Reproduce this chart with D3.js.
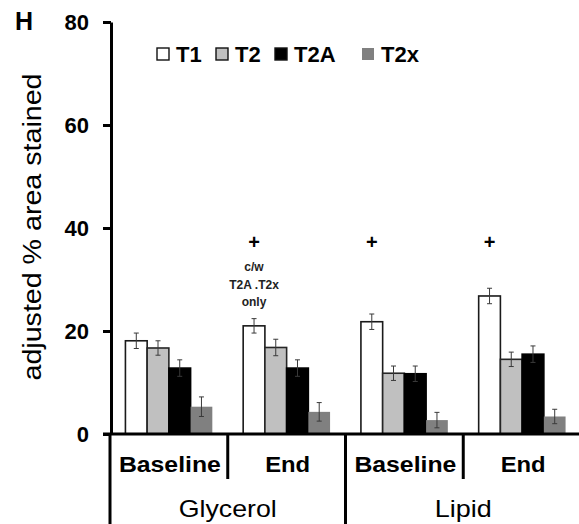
<!DOCTYPE html>
<html>
<head>
<meta charset="utf-8">
<script src="https://cdn.jsdelivr.net/npm/d3@7"></script>
<style>
  body { margin: 0; background: #fff; }
  text { font-family: "Liberation Sans", Arial, sans-serif; }
</style>
</head>
<body>
<svg id="chart" width="579" height="524"></svg>
<script>
"use strict";

var groups = ["Glycerol", "Lipid"];
var phases = ["Baseline", "End"];
var series = ["T1", "T2", "T2A", "T2x"];
var yTicks = [0, 20, 40, 60, 80];

// bar heights per category (Glycerol Baseline, Glycerol End, Lipid Baseline, Lipid End)
var t1Values = [18.1, 21.0, 21.8, 26.8];
var t2Values = [16.7, 16.8, 11.8, 14.5];
var t2aValues = [12.8, 12.8, 11.7, 15.5];
var t2xValues = [5.3, 4.3, 2.7, 3.4];

var t1Err = [1.5, 1.4, 1.5, 1.5];
var t2Err = [1.4, 1.6, 1.4, 1.4];
var t2aErr = [1.6, 1.6, 1.5, 1.6];
var t2xErr = [1.9, 1.8, 1.5, 1.4];

// "+" marks over T1 bars
var plusCats = [1, 2, 3];
var plusValue = 37.3;
var noteLines = ["c/w", "T2A .T2x", "only"];

var config = {
  margin: { l: 111, t: 22, b: 434 },
  right: 581,
  fill: { T1: "#ffffff", T2: "#c0c0c0", T2A: "#000000", T2x: "#808080" },
  stroke: { T1: "#1a1a1a", T2: "#262626", T2A: "#000000", T2x: "none" }
};

var valuesBySeries = { T1: t1Values, T2: t2Values, T2A: t2aValues, T2x: t2xValues };
var errBySeries = { T1: t1Err, T2: t2Err, T2A: t2aErr, T2x: t2xErr };

var cats = [];
groups.forEach(function(g) {
  phases.forEach(function(p) { cats.push(g + "|" + p); });
});

var bars = [];
cats.forEach(function(c, i) {
  series.forEach(function(s) {
    bars.push({ cat: c, s: s, v: valuesBySeries[s][i], e: errBySeries[s][i] });
  });
});

var svg = d3.select("#chart");

var y = d3.scaleLinear().domain([0, 80]).range([config.margin.b, config.margin.t]);
var x0 = d3.scaleBand().domain(cats).range([config.margin.l - 1, config.right]);
var x1 = d3.scaleBand().domain(series).range([0, x0.bandwidth()]).paddingOuter(0.71);
var xg = d3.scaleBand().domain(groups).range([config.margin.l - 1, config.right]);

// the reference text is drawn a little wider than the font, so stretch to these widths
var phaseWidth = { Baseline: 102, End: 45 };
var groupWidth = { Glycerol: 98, Lipid: 57 };

// bars
var barG = svg.append("g");
barG.selectAll("rect")
  .data(bars)
  .enter().append("rect")
  .attr("x", function(d) { return x0(d.cat) + x1(d.s); })
  .attr("y", function(d) { return y(d.v); })
  .attr("width", x1.bandwidth())
  .attr("height", function(d) { return y(0) - y(d.v); })
  .attr("fill", function(d) { return config.fill[d.s]; })
  .attr("stroke", function(d) { return config.stroke[d.s]; })
  .attr("stroke-width", 1.6);

// error bars
var errG = svg.append("g")
  .attr("stroke", "#3a3a3a")
  .attr("stroke-width", 1);
bars.forEach(function(d) {
  var cx = x0(d.cat) + x1(d.s) + x1.bandwidth() / 2;
  errG.append("line")
    .attr("x1", cx).attr("x2", cx)
    .attr("y1", y(d.v + d.e)).attr("y2", y(d.v - d.e));
  [d.v + d.e, d.v - d.e].forEach(function(v) {
    errG.append("line")
      .attr("x1", cx - 2.5).attr("x2", cx + 2.5)
      .attr("y1", y(v)).attr("y2", y(v));
  });
});

// y axis
var yAxis = svg.append("g")
  .attr("transform", "translate(" + config.margin.l + ",0)")
  .call(d3.axisLeft(y).tickValues(yTicks).tickSize(8).tickPadding(14).tickSizeOuter(0));
yAxis.select(".domain").attr("stroke-width", 3);
yAxis.selectAll(".tick line").attr("stroke-width", 3);
yAxis.selectAll(".tick text")
  .attr("font-size", "22px")
  .attr("font-weight", "bold")
  .attr("fill", "#000");

// x baseline
svg.append("line")
  .attr("x1", config.margin.l - 8).attr("x2", config.right)
  .attr("y1", y(0)).attr("y2", y(0))
  .attr("stroke", "#000").attr("stroke-width", 3);

// category separators
cats.forEach(function(c, i) {
  var long = i % 2 === 0;
  svg.append("line")
    .attr("x1", x0(c)).attr("x2", x0(c))
    .attr("y1", y(0)).attr("y2", long ? 524 : 479)
    .attr("stroke", "#000").attr("stroke-width", 3);
});

svg.append("g").selectAll("text")
  .data(cats)
  .enter().append("text")
  .attr("x", function(d) { return x0(d) + x0.bandwidth() / 2 + 1; })
  .attr("y", 472)
  .attr("text-anchor", "middle")
  .attr("font-size", "22px")
  .attr("font-weight", "bold")
  .attr("textLength", function(d) { return phaseWidth[d.split("|")[1]]; })
  .attr("lengthAdjust", "spacingAndGlyphs")
  .text(function(d) { return d.split("|")[1]; });

svg.append("g").selectAll("text")
  .data(groups)
  .enter().append("text")
  .attr("x", function(d) { return xg(d) + xg.bandwidth() / 2; })
  .attr("y", 517)
  .attr("text-anchor", "middle")
  .attr("font-size", "24px")
  .attr("textLength", function(d) { return groupWidth[d]; })
  .attr("lengthAdjust", "spacingAndGlyphs")
  .text(function(d) { return d; });

// y label
svg.append("text")
  .attr("transform", "translate(41,227) rotate(-90)")
  .attr("text-anchor", "middle")
  .attr("font-size", "25px")
  .attr("textLength", 307)
  .attr("lengthAdjust", "spacingAndGlyphs")
  .text("adjusted % area stained");

// panel letter
svg.append("text")
  .attr("x", 15).attr("y", 30)
  .attr("font-size", "25px")
  .attr("font-weight", "bold")
  .text("H");

// plus marks
plusCats.forEach(function(i) {
  var cx = x0(cats[i]) + x1("T1") + x1.bandwidth() / 2;
  svg.append("text")
    .attr("x", cx).attr("y", y(plusValue) + 7)
    .attr("text-anchor", "middle")
    .attr("font-size", "20px")
    .attr("font-weight", "bold")
    .text("+");
});

// note under first "+"
var noteX = x0(cats[1]) + x1("T1") + x1.bandwidth() / 2;
svg.append("g").selectAll("text")
  .data(noteLines)
  .enter().append("text")
  .attr("x", noteX)
  .attr("y", function(d, i) { return 271 + i * 17.5; })
  .attr("text-anchor", "middle")
  .attr("font-size", "12px")
  .attr("font-weight", "bold")
  .attr("fill", "#222")
  .text(function(d) { return d; });

// legend
var legendX = [157, 216, 275, 362];
var legend = svg.append("g");
series.forEach(function(s, i) {
  legend.append("rect")
    .attr("x", legendX[i]).attr("y", 48)
    .attr("width", 12).attr("height", 12)
    .attr("fill", config.fill[s])
    .attr("stroke", s === "T2x" ? "none" : "#111")
    .attr("stroke-width", 1.4);
  legend.append("text")
    .attr("x", legendX[i] + 19).attr("y", 62)
    .attr("font-size", "22px")
    .attr("font-weight", "bold")
    .text(s);
});
</script>
</body>
</html>
